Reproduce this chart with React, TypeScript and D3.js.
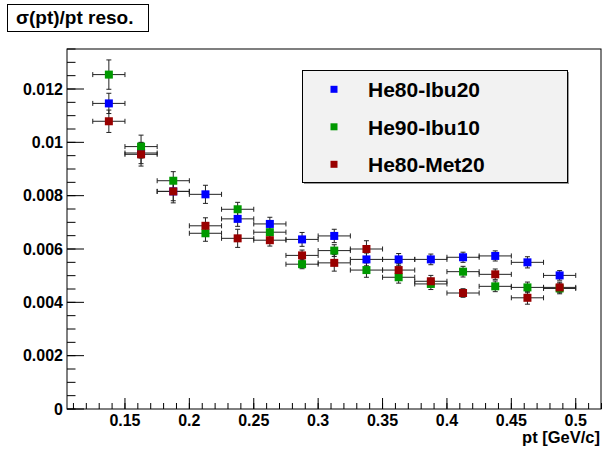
import React from "react";
import * as d3 from "d3";

const ptBins = [0.1375, 0.1625, 0.1875, 0.2125, 0.2375, 0.2625, 0.2875, 0.3125, 0.3375, 0.3625, 0.3875, 0.4125, 0.4375, 0.4625, 0.4875];
const ptHalfWidth = 0.0125;

const seriesNames = ["He80-Ibu20", "He90-Ibu10", "He80-Met20"];
const seriesColors = ["#0000ff", "#009900", "#990000"];

const ibu20Values = [0.01146, 0.0096, 0.00816, 0.00805, 0.00713, 0.00694, 0.00636, 0.00649, 0.00561, 0.00561, 0.00561, 0.00569, 0.00574, 0.0055, 0.00501];
const ibu20Errors = [0.00038, 0.0004, 0.00035, 0.00034, 0.00028, 0.00025, 0.00026, 0.00025, 0.00024, 0.00022, 0.0002, 0.00019, 0.00019, 0.00021, 0.00018];

const ibu10Values = [0.01254, 0.00984, 0.00856, 0.00659, 0.00749, 0.00663, 0.00543, 0.00594, 0.00521, 0.00494, 0.00469, 0.00515, 0.0046, 0.00456, 0.00452];
const ibu10Errors = [0.00055, 0.00043, 0.00034, 0.0003, 0.00026, 0.00024, 0.00017, 0.00022, 0.00027, 0.00022, 0.00021, 0.0002, 0.0002, 0.0002, 0.0002];

const met20Values = [0.01079, 0.00955, 0.00816, 0.00687, 0.0064, 0.00633, 0.00576, 0.00548, 0.006, 0.00521, 0.00479, 0.00435, 0.00505, 0.00417, 0.00456];
const met20Errors = [0.00042, 0.00044, 0.00043, 0.0003, 0.00034, 0.00022, 0.0002, 0.00031, 0.00031, 0.00024, 0.00022, 0.00016, 0.0002, 0.00024, 0.0002];

const yMajorTicks = [0, 0.002, 0.004, 0.006, 0.008, 0.01, 0.012];
const yTickLabels = ["0", "0.002", "0.004", "0.006", "0.008", "0.01", "0.012"];
const xMajorTicks = [0.15, 0.2, 0.25, 0.3, 0.35, 0.4, 0.45, 0.5];
const xTickLabels = ["0.15", "0.2", "0.25", "0.3", "0.35", "0.4", "0.45", "0.5"];

const titleText = "σ(pt)/pt reso.";
const xAxisTitle = "pt [GeV/c]";

const W = 602;
const H = 450;
const FONT = "'Liberation Sans', Arial, Helvetica, sans-serif";

export default function App() {
  const x = d3.scaleLinear().domain([0.105, 0.52]).range([67, 601.5]);
  const y = d3.scaleLinear().domain([0, 0.0135]).range([409, 49]);

  const yMinor = d3.range(0, 0.01351, 0.0005);
  const xMinor = d3.range(0.11, 0.5201, 0.01);

  const series = [
    { values: ibu20Values, errors: ibu20Errors },
    { values: ibu10Values, errors: ibu10Errors },
    { values: met20Values, errors: met20Errors },
  ];

  const ms = 8;
  const cap = 2.5;

  return (
    <svg
      width={W}
      height={H}
      style={{ position: "absolute", left: 0, top: 0, background: "#fff" }}
      fontFamily={FONT}
    >
      <rect x={0} y={0} width={W} height={H} fill="#fff" />
      {/* frame */}
      <rect x={67} y={49} width={534} height={360} fill="none" stroke="#000" strokeWidth={1} />

      {/* y ticks */}
      {yMinor.map((v, i) => (
        <line key={"ym" + i} x1={67} x2={75.5} y1={y(v)} y2={y(v)} stroke="#000" strokeWidth={1} />
      ))}
      {yMajorTicks.map((v, i) => (
        <line key={"yM" + i} x1={67} x2={84} y1={y(v)} y2={y(v)} stroke="#000" strokeWidth={1} />
      ))}
      {yMajorTicks.map((v, i) => (
        <text key={"yl" + i} x={63} y={y(v)} dy="0.36em" textAnchor="end" fontSize={16} fontWeight="bold" fill="#000">
          {yTickLabels[i]}
        </text>
      ))}

      {/* x ticks */}
      {xMinor.map((v, i) => (
        <line key={"xm" + i} x1={x(v)} x2={x(v)} y1={409} y2={403} stroke="#000" strokeWidth={1} />
      ))}
      {xMajorTicks.map((v, i) => (
        <line key={"xM" + i} x1={x(v)} x2={x(v)} y1={409} y2={398} stroke="#000" strokeWidth={1} />
      ))}
      {xMajorTicks.map((v, i) => (
        <text key={"xl" + i} x={x(v)} y={426} textAnchor="middle" fontSize={16} fontWeight="bold" fill="#000">
          {xTickLabels[i]}
        </text>
      ))}
      <text x={600} y={443} textAnchor="end" fontSize={16.5} fontWeight="bold" fill="#000">
        {xAxisTitle}
      </text>

      {/* error bars */}
      {series.map((s, si) => (
        <g key={"e" + si} stroke="#222" strokeWidth={1}>
          {ptBins.map((p, i) => {
            const cx = x(p);
            const cy = y(s.values[i]);
            const xl = x(p - ptHalfWidth);
            const xr = x(p + ptHalfWidth);
            const yt = y(s.values[i] + s.errors[i]);
            const yb = y(s.values[i] - s.errors[i]);
            return (
              <g key={i}>
                <line x1={xl} x2={xr} y1={cy} y2={cy} />
                <line x1={xl} x2={xl} y1={cy - cap} y2={cy + cap} />
                <line x1={xr} x2={xr} y1={cy - cap} y2={cy + cap} />
                <line x1={cx} x2={cx} y1={yt} y2={yb} />
                <line x1={cx - cap} x2={cx + cap} y1={yt} y2={yt} />
                <line x1={cx - cap} x2={cx + cap} y1={yb} y2={yb} />
              </g>
            );
          })}
        </g>
      ))}
      {/* markers */}
      {series.map((s, si) => (
        <g key={"m" + si} fill={seriesColors[si]}>
          {ptBins.map((p, i) => (
            <rect key={i} x={x(p) - ms / 2} y={y(s.values[i]) - ms / 2} width={ms} height={ms} />
          ))}
        </g>
      ))}

      {/* title box */}
      <rect x={7.5} y={4.5} width={141} height={27} fill="#fff" stroke="#000" strokeWidth={1} />
      <text x={16} y={24} fontSize={19} fontWeight="bold" fill="#000">
        {titleText}
      </text>

      {/* legend */}
      <rect x={304} y={72} width={265} height={112} fill="#999" />
      <rect x={302.5} y={70.5} width={265} height={112} fill="#f2f2f2" stroke="#000" strokeWidth={1} />
      {seriesNames.map((n, i) => {
        const ly = 89.3 + i * 37.5;
        return (
          <g key={"lg" + i}>
            <rect x={334 - 3.5} y={ly - 3.5} width={7} height={7} fill={seriesColors[i]} />
            <text x={368} y={ly + 8} fontSize={21} fontWeight="bold" fill="#000">
              {n}
            </text>
          </g>
        );
      })}
    </svg>
  );
}
